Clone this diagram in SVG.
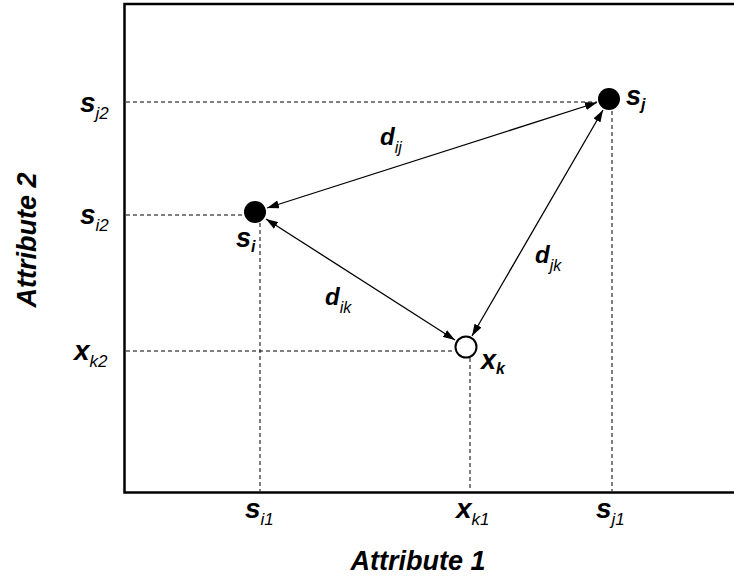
<svg xmlns="http://www.w3.org/2000/svg" width="734" height="577" viewBox="0 0 734 577">
<defs>
<marker id="ah" viewBox="0 0 12 8" refX="12" refY="4" markerWidth="12" markerHeight="8" markerUnits="userSpaceOnUse" orient="auto-start-reverse">
<path d="M0,0 L12,4 L0,8 z" fill="#000"/>
</marker>
<style>
.axis{stroke:#000;stroke-width:2.5;fill:none}
.dash{stroke:#000;stroke-width:1;stroke-dasharray:4 3;fill:none}
.conn{stroke:#000;stroke-width:1.3;fill:none;marker-start:url(#ah);marker-end:url(#ah)}
.main{font-family:"Liberation Sans",Arial,sans-serif;font-weight:bold;font-style:italic;font-size:28px;fill:#000}
.sub{font-family:"Liberation Sans",Arial,sans-serif;font-weight:normal;font-style:italic;font-size:17px;fill:#000}
.dl{font-family:"Liberation Sans",Arial,sans-serif;font-weight:bold;font-style:italic;font-size:24px;fill:#000}
.dsub{font-family:"Liberation Sans",Arial,sans-serif;font-weight:normal;font-style:italic;font-size:16px;fill:#000}
.nl{font-family:"Liberation Sans",Arial,sans-serif;font-weight:bold;font-style:italic;font-size:27px;fill:#000}
.nsub{font-family:"Liberation Sans",Arial,sans-serif;font-weight:bold;font-style:italic;font-size:16px;fill:#000}
.title{font-family:"Liberation Sans",Arial,sans-serif;font-weight:bold;font-style:italic;font-size:27px;fill:#000}
</style>
</defs>
<g id="axes">
<path class="axis" d="M734,4 L124.5,4 L124.5,492.5 L734,492.5"/>
</g>
<g id="guides">
<line class="dash" x1="126" y1="102" x2="597" y2="102"/>
<line class="dash" x1="126" y1="215" x2="244" y2="215"/>
<line class="dash" x1="126" y1="351" x2="455" y2="351"/>
<line class="dash" x1="260" y1="223" x2="260" y2="491"/>
<line class="dash" x1="470" y1="358" x2="470" y2="491"/>
<line class="dash" x1="612" y1="111" x2="612" y2="491"/>
</g>
<g id="connectors">
<line class="conn" x1="597" y1="102.5" x2="267" y2="208"/>
<line class="conn" x1="603" y1="110" x2="472" y2="336"/>
<line class="conn" x1="266" y1="219" x2="455" y2="340"/>
</g>
<g id="node-si">
<circle cx="255" cy="212" r="11" fill="#000"/>
<text class="nl" x="236" y="247">s<tspan class="nsub" dy="5">i</tspan></text>
</g>
<g id="node-sj">
<circle cx="609" cy="99" r="11" fill="#000"/>
<text class="nl" x="626" y="105">s<tspan class="nsub" dy="5">j</tspan></text>
</g>
<g id="node-xk">
<circle cx="466" cy="347" r="10.5" fill="#fff" stroke="#000" stroke-width="2"/>
<text class="nl" x="481" y="369">x<tspan class="nsub" dy="5">k</tspan></text>
</g>
<g id="edge-labels">
<text class="dl" x="380" y="145">d<tspan class="dsub" dy="8">ij</tspan></text>
<text class="dl" x="535" y="263">d<tspan class="dsub" dy="8">jk</tspan></text>
<text class="dl" x="325" y="305">d<tspan class="dsub" dy="8">ik</tspan></text>
</g>
<g id="tick-labels">
<text class="main" x="80" y="112">s<tspan class="sub" dy="7">j2</tspan></text>
<text class="main" x="80" y="224">s<tspan class="sub" dy="7">i2</tspan></text>
<text class="main" x="74" y="360">x<tspan class="sub" dy="7">k2</tspan></text>
<text class="main" x="245" y="518">s<tspan class="sub" dy="7">i1</tspan></text>
<text class="main" x="456" y="518">x<tspan class="sub" dy="7">k1</tspan></text>
<text class="main" x="596" y="518">s<tspan class="sub" dy="7">j1</tspan></text>
</g>
<g id="axis-titles">
<text class="title" x="418" y="570" text-anchor="middle">Attribute 1</text>
<text class="title" transform="translate(36,240) rotate(-90)" text-anchor="middle">Attribute 2</text>
</g>
</svg>
